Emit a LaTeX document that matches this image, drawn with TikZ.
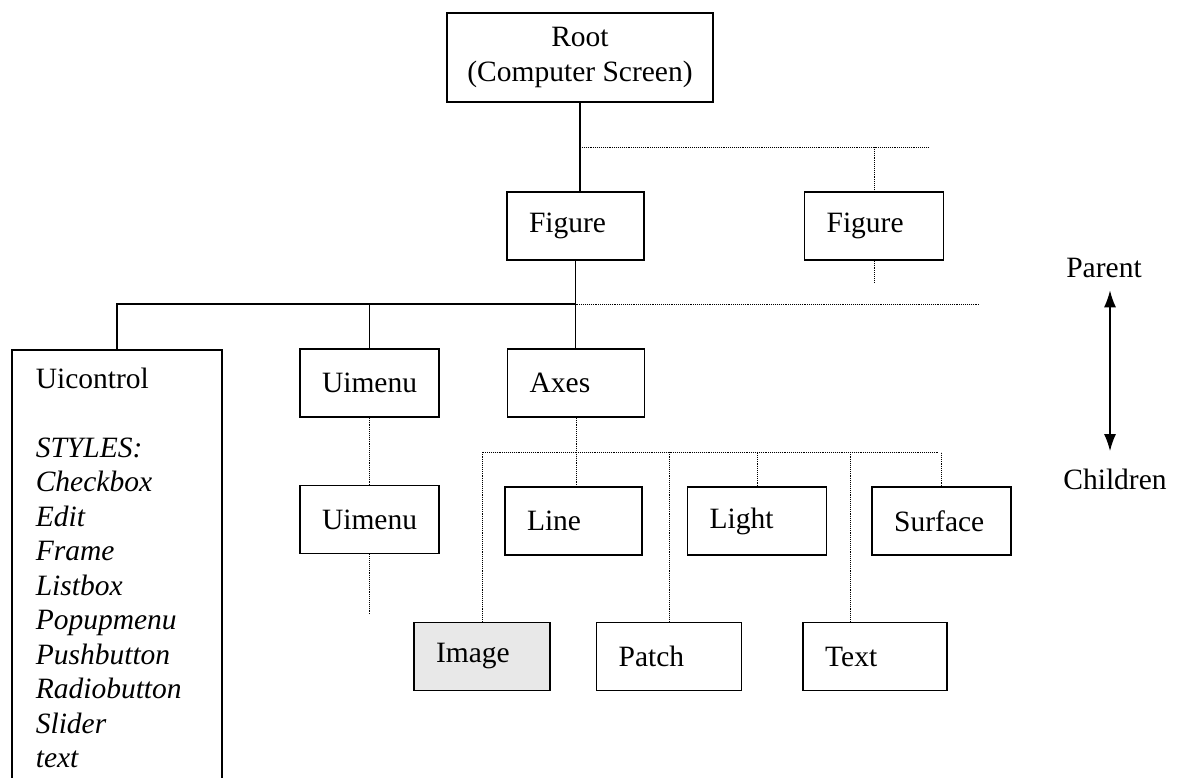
\documentclass[tikz,border=0pt]{standalone}
\usepackage{fontspec}
\setmainfont{Liberation Serif}
\usepackage{tikz}
\usetikzlibrary{positioning,arrows.meta}

\tikzset{
  objbox/.style={draw, rectangle, line width=1.6pt, minimum height=68pt, inner xsep=22pt, text width=#1, align=left},
  link/.style={line width=1.4pt},
  dotlink/.style={densely dotted, line width=0.9pt},
}

\begin{document}
\begin{tikzpicture}[x=1pt, y=-1pt, font=\fontsize{29.5}{34.5}\selectfont]
\useasboundingbox (0,0) rectangle (1186,777);

% Nodes
\node (root) [draw, rectangle, line width=1.6pt, minimum width=266pt, minimum height=89pt, align=center] at (580,57.5) {Root\\(Computer Screen)};
\node (figL) [objbox=93pt] at (575.5,226) {Figure};
\node (figR) [objbox=95pt, right=159pt of figL] {Figure};

\node (uictrl) [draw, rectangle, line width=1.6pt, anchor=north west, text width=162pt, inner xsep=24pt, inner ysep=18pt, align=left] at (11,349) {Uicontrol\\[34.5pt]
  \textit{STYLES:}\\ \textit{Checkbox}\\ \textit{Edit}\\ \textit{Frame}\\ \textit{Listbox}\\
  \textit{Popupmenu}\\ \textit{Pushbutton}\\ \textit{Radiobutton}\\ \textit{Slider}\\ \textit{text}};
\node (uimenuA) [objbox=95pt] at (369.5,383) {Uimenu};
\node (axes) [objbox=93pt, right=67pt of uimenuA] {Axes};
\node (uimenuB) [objbox=95pt, below=67pt of uimenuA] {Uimenu};

% Axes children
\node (line) [objbox=93pt] at (573.5,521) {Line};
\node (light) [objbox=95pt, right=44pt of line] {Light};
\node (surface) [objbox=95pt, right=44pt of light] {Surface};
\node (image) [objbox=92pt, fill=gray!18] at (482,656.5) {Image};
\node (patch) [objbox=101pt, right=45pt of image] {Patch};
\node (textobj) [objbox=100pt, right=60pt of patch] {Text};

\node (parent) at (1104,268) {Parent};
\node (children) at (1115,479) {Children};

% Junctions
\coordinate (jRoot) at (580,147);
\coordinate (endRoot) at (928,147);
\coordinate (tailFig) at (872.5,283);
\coordinate (jFig) at (575.5,304);
\coordinate (endFig) at (980,304);
\coordinate (tailMenu) at (368.5,615);
\coordinate (busAxes) at (938,452);

% Arrows
\draw[link] (root.south) -- (root.south |- figL.north);
\draw[link] (figL.south) -- (figL.south |- axes.north);
\draw[link] (jFig) -| (uictrl.north);
\draw[link] (jFig) -| (uimenuA.north);

\draw[dotlink] (jRoot) -- (endRoot);
\draw[dotlink] (jRoot -| figR.north) -- (figR.north);
\draw[dotlink] (figR.south) -- (figR.south |- tailFig);
\draw[dotlink] (jFig) -- (endFig);
\draw[dotlink] (uimenuA.south) -- (uimenuB.north);
\draw[dotlink] (uimenuB.south) -- (uimenuB.south |- tailMenu);
\draw[dotlink] (axes.south) -- (axes.south |- line.north);
\draw[dotlink] (image.north) |- (busAxes);
\draw[dotlink] (patch.north) -- (patch.north |- busAxes);
\draw[dotlink] (light.north) -- (light.north |- busAxes);
\draw[dotlink] ([xshift=-25pt]textobj.north) -- ([xshift=-25pt]textobj.north |- busAxes);
\draw[dotlink] (surface.north) -- (surface.north |- busAxes);

\draw[{Latex[length=17pt,width=12pt]}-{Latex[length=17pt,width=12pt]}, link, shorten <=9pt, shorten >=14pt] ([xshift=6pt]parent.south) -- ([xshift=6pt]parent.south |- children.north);

\end{tikzpicture}
\end{document}
